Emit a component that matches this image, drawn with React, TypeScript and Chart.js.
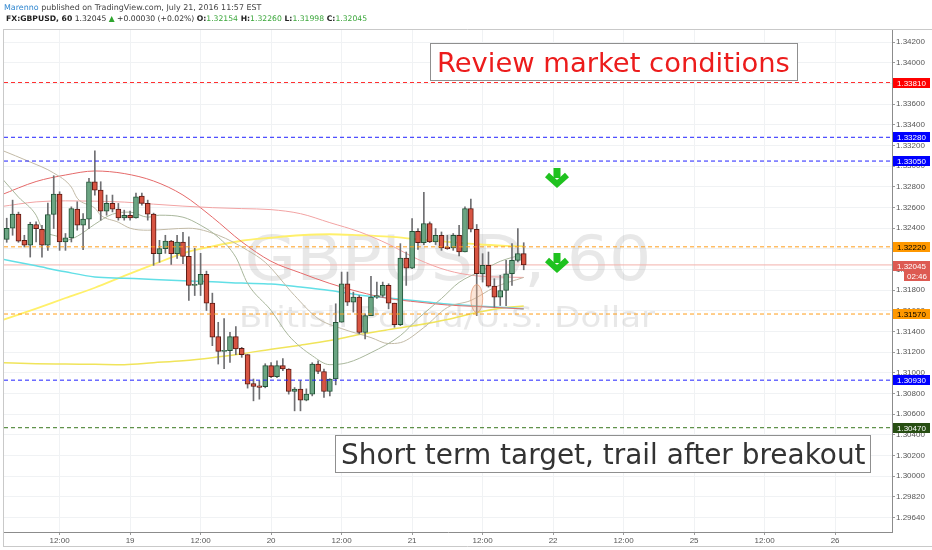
import React, { useEffect, useRef } from "react";
import { Chart, registerables } from "chart.js";

Chart.register(...registerables);

const W = 932;
const H = 550;

// ---- candles (hourly, first bar = bar index 3, i.e. July 18 03:00) ----
const FIRST_BAR = 3;
const opens = [
  1.32293, 1.32400, 1.32536, 1.32283, 1.32235, 1.32436, 1.32390, 1.32235, 1.32533, 1.32730,
  1.32267, 1.32306, 1.32585, 1.32429, 1.32488, 1.32850, 1.32769, 1.32565, 1.32640, 1.32585,
  1.32500, 1.32526, 1.32500, 1.32711, 1.32640, 1.32536, 1.32154, 1.32203, 1.32276, 1.32154,
  1.32267, 1.32128, 1.31847, 1.31856, 1.31953, 1.31675, 1.31351, 1.31209, 1.31216, 1.31351,
  1.31238, 1.31177, 1.30898, 1.30876, 1.30866, 1.31070, 1.30963, 1.31070, 1.31038, 1.30820,
  1.30843, 1.30737, 1.30795, 1.31086, 1.31014, 1.30820, 1.30941, 1.31490, 1.31863, 1.31684,
  1.31733, 1.31393, 1.31555, 1.31733, 1.31749, 1.31847, 1.31675, 1.31468, 1.32112, 1.32014,
  1.32371, 1.32261, 1.32446, 1.32267, 1.32332, 1.32218, 1.32209, 1.32332, 1.32170, 1.32591,
  1.32390, 1.31960, 1.32041, 1.31840, 1.31733, 1.31798, 1.31960, 1.32089, 1.32154,
];
const highs = [
  1.32497, 1.32672, 1.32556, 1.32332, 1.32458, 1.32461, 1.32429, 1.32643, 1.32908, 1.32753,
  1.32349, 1.32607, 1.32656, 1.32543, 1.32883, 1.33148, 1.32850, 1.32721, 1.32721, 1.32640,
  1.32575, 1.32565, 1.32740, 1.32740, 1.32672, 1.32546, 1.32283, 1.32332, 1.32283, 1.32332,
  1.32361, 1.32316, 1.32206, 1.32157, 1.31985, 1.31772, 1.31490, 1.31526, 1.31393, 1.31448,
  1.31248, 1.31177, 1.30941, 1.30924, 1.31089, 1.31099, 1.31118, 1.31138, 1.31041, 1.30859,
  1.30924, 1.30846, 1.31099, 1.31118, 1.31038, 1.30944, 1.31669, 1.31976, 1.31976, 1.31782,
  1.31749, 1.31572, 1.31934, 1.31879, 1.31879, 1.31863, 1.31675, 1.32251, 1.32170, 1.32494,
  1.32397, 1.32747, 1.32461, 1.32397, 1.32364, 1.32332, 1.32349, 1.32429, 1.32607, 1.32682,
  1.32436, 1.32154, 1.32170, 1.31912, 1.31944, 1.32089, 1.32251, 1.32397, 1.32260,
];
const lows = [
  1.32264, 1.32332, 1.32264, 1.32218, 1.32121, 1.32267, 1.32121, 1.32186, 1.32397, 1.32186,
  1.32186, 1.32267, 1.32381, 1.32193, 1.32397, 1.32721, 1.32478, 1.32526, 1.32558, 1.32478,
  1.32478, 1.32478, 1.32497, 1.32623, 1.32478, 1.32041, 1.32070, 1.32157, 1.32050, 1.32109,
  1.32057, 1.31701, 1.31749, 1.31749, 1.31604, 1.31264, 1.31086, 1.31041, 1.31102, 1.31177,
  1.31151, 1.30853, 1.30730, 1.30746, 1.30856, 1.30953, 1.30953, 1.31021, 1.30795, 1.30633,
  1.30633, 1.30730, 1.30778, 1.30992, 1.30762, 1.30778, 1.30885, 1.31490, 1.31652, 1.31588,
  1.31378, 1.31329, 1.31555, 1.31720, 1.31733, 1.31620, 1.31442, 1.31458, 1.31847, 1.32008,
  1.32196, 1.32242, 1.32261, 1.32242, 1.32186, 1.32196, 1.32186, 1.32131, 1.32170, 1.32364,
  1.31555, 1.31879, 1.31830, 1.31636, 1.31652, 1.31652, 1.31847, 1.32073, 1.31998,
];
const closes = [
  1.32400, 1.32536, 1.32276, 1.32235, 1.32439, 1.32397, 1.32235, 1.32533, 1.32730, 1.32267,
  1.32306, 1.32591, 1.32429, 1.32488, 1.32850, 1.32769, 1.32565, 1.32640, 1.32585, 1.32500,
  1.32526, 1.32500, 1.32704, 1.32640, 1.32536, 1.32154, 1.32203, 1.32276, 1.32154, 1.32267,
  1.32128, 1.31847, 1.31856, 1.31953, 1.31675, 1.31345, 1.31209, 1.31216, 1.31351, 1.31232,
  1.31177, 1.30892, 1.30869, 1.30859, 1.31070, 1.30963, 1.31070, 1.31038, 1.30820, 1.30843,
  1.30737, 1.30795, 1.31086, 1.31014, 1.30820, 1.30941, 1.31490, 1.31863, 1.31684, 1.31733,
  1.31393, 1.31555, 1.31733, 1.31749, 1.31847, 1.31675, 1.31468, 1.32112, 1.32014, 1.32371,
  1.32261, 1.32446, 1.32267, 1.32332, 1.32209, 1.32203, 1.32332, 1.32170, 1.32591, 1.32390,
  1.31960, 1.32041, 1.31840, 1.31733, 1.31798, 1.31960, 1.32089, 1.32154, 1.32045,
];

// ---- moving averages ----
const maIdx = [2, 8, 13, 18, 23, 28, 33, 38, 43, 48, 53, 58, 63, 68, 73, 78, 83, 88, 91];
const yellowA = [1.31507, 1.31623, 1.31725, 1.31824, 1.31939, 1.32050, 1.32157, 1.32225, 1.32279, 1.32308, 1.32332, 1.32342, 1.32332, 1.32318, 1.32293, 1.32269, 1.32245, 1.32230, 1.32225];
const yellowB = [1.31099, 1.31089, 1.31086, 1.31083, 1.31080, 1.31099, 1.31118, 1.31148, 1.31186, 1.31230, 1.31269, 1.31313, 1.31371, 1.31419, 1.31463, 1.31517, 1.31585, 1.31633, 1.31648];
const cyanMA = [1.32104, 1.32036, 1.31978, 1.31929, 1.31917, 1.31905, 1.31892, 1.31883, 1.31869, 1.31861, 1.31832, 1.31798, 1.31754, 1.31725, 1.31696, 1.31667, 1.31648, 1.31633, 1.31620];
const redMA = [1.32721, 1.32852, 1.32915, 1.32954, 1.32929, 1.32857, 1.32721, 1.32507, 1.32269, 1.32080, 1.31968, 1.31866, 1.31784, 1.31720, 1.31686, 1.31657, 1.31643, 1.31628, 1.31619];
const pinkMA = [1.32609, 1.32655, 1.32665, 1.32662, 1.32653, 1.32633, 1.32614, 1.32599, 1.32590, 1.32580, 1.32541, 1.32454, 1.32366, 1.32245, 1.32099, 1.31992, 1.31939, 1.31927, 1.31924];
const grayAIdx = [2, 5, 8, 9, 12, 13, 15, 18, 21, 24, 27, 29, 33, 36, 39, 42, 44, 48, 51, 55, 58, 61, 65, 70, 73, 77, 80, 84, 87, 91];
const grayA = [1.32895, 1.32701, 1.32526, 1.32400, 1.32313, 1.32283, 1.32322, 1.32439, 1.32536, 1.32556, 1.32507, 1.32526, 1.32507, 1.32429, 1.32313, 1.32119, 1.31866, 1.31604, 1.31361, 1.31167, 1.31080, 1.31099, 1.31196, 1.31361, 1.31526, 1.31720, 1.31876, 1.31992, 1.32080, 1.32148];
const grayBIdx = [2, 7, 11, 14, 15, 18, 19, 22, 24, 27, 34, 39, 44, 47, 52, 56, 60, 65, 68, 70, 74, 78, 82, 86, 91];
const grayB = [1.33158, 1.33041, 1.32934, 1.32798, 1.32691, 1.32594, 1.32526, 1.32458, 1.32400, 1.32381, 1.32400, 1.32332, 1.32186, 1.32070, 1.31749, 1.31526, 1.31429, 1.31342, 1.31284, 1.31293, 1.31439, 1.31633, 1.31701, 1.31827, 1.31924];

// ---- horizontal levels ----
const levelValues = [1.3381, 1.3328, 1.3305, 1.3222, 1.3157, 1.3093, 1.3047];
const levelLabels = ["1.33810", "1.33280", "1.33050", "1.32220", "1.31570", "1.30930", "1.30470"];
const levelLineColors = ["#ff3030", "#2020ff", "#2020ff", "#ff9d1a", "#ff9d1a", "#2020ff", "#38761d"];
const levelBoxColors = ["#ff0000", "#0000ff", "#0000ff", "#ff9800", "#ff9800", "#0000ff", "#274e13"];
const levelTextColors = ["#ffffff", "#ffffff", "#ffffff", "#000000", "#000000", "#ffffff", "#ffffff"];
const lastPrice = 1.32045;
const lastLabel = "1.32045";
const countdown = "02:46";

// ---- axes ----
const xMin = 2.536;
const xMax = 153.685;
const yMin = 1.29461;
const yMax = 1.34318;
const xTickValues = [12, 24, 36, 48, 60, 72, 84, 96, 108, 120, 132, 144];
const xTickLabels = ["12:00", "19", "12:00", "20", "12:00", "21", "12:00", "22", "12:00", "25", "12:00", "26"];
const yTickValues = [1.296, 1.298, 1.3, 1.302, 1.304, 1.306, 1.308, 1.31, 1.312, 1.314, 1.316, 1.318, 1.32, 1.322, 1.324, 1.326, 1.328, 1.33, 1.332, 1.334, 1.336, 1.338, 1.34, 1.342];
const yTickLabels = ["1.29640", "1.29820", "1.30000", "1.30200", "1.30400", "1.30600", "1.30800", "1.31000", "1.31200", "1.31400", "1.31600", "1.31800", "1.32000", "1.32200", "1.32400", "1.32600", "1.32800", "1.33000", "1.33200", "1.33400", "1.33600", "1.33800", "1.34000", "1.34200"];

// ---- texts ----
const headerAuthor = "Marenno";
const headerRest = " published on TradingView.com, July 21, 2016 11:57 EST";
const watermark1 = "GBPUSD, 60";
const watermark2 = "British Pound/U.S. Dollar";
const note1 = "Review market conditions";
const note2 = "Short term target, trail after breakout";

const DV = '"DejaVu Sans", Verdana, sans-serif';

function fitFont(ctx: CanvasRenderingContext2D, text: string, family: string, targetW: number, bold = false) {
  ctx.font = `${bold ? "bold " : ""}20px ${family}`;
  const w = ctx.measureText(text).width;
  return (20 * targetW) / w;
}

type Seg = { t: string; bold?: boolean; color: string };
function drawSegs(ctx: CanvasRenderingContext2D, segs: Seg[], x: number, y: number, targetW: number) {
  let total = 0;
  for (const s of segs) {
    ctx.font = `${s.bold ? "bold " : ""}10px ${DV}`;
    total += ctx.measureText(s.t).width;
  }
  const size = (10 * targetW) / total;
  let cx = x;
  ctx.textBaseline = "alphabetic";
  ctx.textAlign = "left";
  for (const s of segs) {
    ctx.font = `${s.bold ? "bold " : ""}${size}px ${DV}`;
    ctx.fillStyle = s.color;
    ctx.fillText(s.t, cx, y);
    cx += ctx.measureText(s.t).width;
  }
}

function drawStretched(ctx: CanvasRenderingContext2D, text: string, cx: number, baseline: number, capH: number, targetW: number) {
  const size = capH / 0.729;
  ctx.font = `${size}px ${DV}`;
  const w = ctx.measureText(text).width;
  ctx.save();
  ctx.translate(cx, baseline);
  ctx.scale(targetW / w, 1);
  ctx.textAlign = "center";
  ctx.textBaseline = "alphabetic";
  ctx.fillText(text, 0, 0);
  ctx.restore();
}

function drawNote(ctx: CanvasRenderingContext2D, text: string, color: string, bx: number, by: number, bw: number, bh: number, tx: number, tw: number) {
  ctx.fillStyle = "#ffffff";
  ctx.fillRect(bx, by, bw, bh);
  ctx.strokeStyle = "#8f8f8f";
  ctx.lineWidth = 1;
  ctx.strokeRect(bx + 0.5, by + 0.5, bw - 1, bh - 1);
  const size = fitFont(ctx, text, DV, tw);
  ctx.font = `${size}px ${DV}`;
  ctx.fillStyle = color;
  ctx.textAlign = "left";
  ctx.textBaseline = "alphabetic";
  ctx.fillText(text, tx, by + bh / 2 + (size * 0.729) / 2);
}

function drawArrow(ctx: CanvasRenderingContext2D, cx: number, top: number) {
  ctx.fillStyle = "#1fc21f";
  ctx.strokeStyle = "#1fc21f";
  ctx.fillRect(cx - 3.5, top, 7, 10);
  ctx.lineWidth = 6;
  ctx.lineJoin = "miter";
  ctx.lineCap = "butt";
  ctx.beginPath();
  ctx.moveTo(cx - 10, top + 7);
  ctx.lineTo(cx, top + 16);
  ctx.lineTo(cx + 10, top + 7);
  ctx.stroke();
}

export default function App() {
  const ref = useRef<HTMLCanvasElement>(null);

  useEffect(() => {
    const canvas = ref.current;
    if (!canvas) return;

    const bodies = opens.map((o, i) => ({ x: FIRST_BAR + i, y: [o, closes[i]] }));
    const wicks = lows.map((l, i) => ({ x: FIRST_BAR + i, y: [l, highs[i]] }));
    const up = opens.map((o, i) => closes[i] >= o);
    const bodyFill = up.map((u) => (u ? "#6ba583" : "#d75442"));
    const bodyBorder = up.map((u) => (u ? "#225437" : "#5b1a13"));

    const ma = (idx: number[], vals: number[], color: string, width: number) => ({
      type: "line" as const,
      data: idx.map((x, i) => ({ x, y: vals[i] })),
      borderColor: color,
      borderWidth: width,
      pointRadius: 0,
      cubicInterpolationMode: "monotone" as const,
      fill: false,
      order: 10,
    });

    const levelSets = levelValues.map((v, i) => ({
      type: "line" as const,
      data: [
        { x: xMin, y: v },
        { x: xMax, y: v },
      ],
      borderColor: levelLineColors[i],
      borderWidth: 1,
      borderDash: [4, 3],
      pointRadius: 0,
      fill: false,
      order: 1,
    }));

    const overlay = {
      id: "overlay",
      beforeDatasetsDraw(chart: any) {
        const ctx: CanvasRenderingContext2D = chart.ctx;
        const a = chart.chartArea;
        ctx.save();
        ctx.beginPath();
        ctx.rect(a.left, a.top, a.right - a.left, a.bottom - a.top);
        ctx.clip();
        ctx.fillStyle = "rgba(110,110,110,0.16)";
        const cx = (a.left + a.right) / 2;
        drawStretched(ctx, watermark1, cx, 280, 45, 407);
        drawStretched(ctx, watermark2, cx - 1, 327, 21, 416);
        ctx.restore();
      },
      afterDatasetsDraw(chart: any) {
        const ctx: CanvasRenderingContext2D = chart.ctx;
        const xs = chart.scales.x;
        const ys = chart.scales.y;
        ctx.save();
        // ellipse highlight on the long lower wick
        const ex = xs.getPixelForValue(83);
        const ey = ys.getPixelForValue(1.3172);
        ctx.beginPath();
        ctx.ellipse(ex, ey, 6, 14, 0, 0, Math.PI * 2);
        ctx.fillStyle = "rgba(245,180,140,0.35)";
        ctx.fill();
        ctx.strokeStyle = "rgba(225,150,110,0.7)";
        ctx.lineWidth = 1;
        ctx.stroke();
        // notes
        drawNote(ctx, note1, "#ec1c1c", 430, 43, 368, 38, 437, 353);
        drawNote(ctx, note2, "#333333", 335, 435, 536, 38, 341, 525);
        // arrows
        drawArrow(ctx, 557, 168);
        drawArrow(ctx, 557, 253);
        ctx.restore();
      },
      afterDraw(chart: any) {
        const ctx: CanvasRenderingContext2D = chart.ctx;
        const ys = chart.scales.y;
        const a = chart.chartArea;
        ctx.save();
        // price boxes on the right axis
        ctx.font = `8px "Liberation Sans", Arial, sans-serif`;
        ctx.textBaseline = "middle";
        ctx.textAlign = "left";
        levelValues.forEach((v, i) => {
          const y = Math.round(ys.getPixelForValue(v));
          ctx.fillStyle = levelBoxColors[i];
          ctx.fillRect(a.right + 1, y - 5, 37, 10);
          ctx.fillStyle = levelTextColors[i];
          ctx.fillText(levelLabels[i], a.right + 5, y + 0.5);
        });
        const ly = Math.round(ys.getPixelForValue(lastPrice));
        ctx.fillStyle = "#dd5a52";
        ctx.fillRect(a.right + 1, ly - 4, 37, 10);
        ctx.fillRect(a.right + 12, ly + 6, 26, 10);
        ctx.fillStyle = "#ffffff";
        ctx.fillText(lastLabel, a.right + 5, ly + 1.5);
        ctx.fillText(countdown, a.right + 15, ly + 11.5);

        // frame
        ctx.strokeStyle = "#c9c9c9";
        ctx.lineWidth = 1;
        ctx.beginPath();
        ctx.moveTo(3, 29.5);
        ctx.lineTo(W, 29.5);
        ctx.moveTo(3.5, 29);
        ctx.lineTo(3.5, 547);
        ctx.moveTo(3, 546.5);
        ctx.lineTo(W, 546.5);
        ctx.stroke();

        // header
        drawSegs(ctx, [
          { t: headerAuthor, color: "#2f86cf" },
          { t: headerRest, color: "#444444" },
        ], 4, 9.5, 258);
        drawSegs(ctx, [
          { t: "FX:GBPUSD, 60", bold: true, color: "#222222" },
          { t: " 1.32045 ", color: "#333333" },
          { t: "\u25B2", color: "#2ea52e" },
          { t: " +0.00030 (+0.02%) ", color: "#333333" },
          { t: "O:", bold: true, color: "#222222" },
          { t: "1.32154", color: "#3aa63a" },
          { t: " H:", bold: true, color: "#222222" },
          { t: "1.32260", color: "#3aa63a" },
          { t: " L:", bold: true, color: "#222222" },
          { t: "1.31998", color: "#3aa63a" },
          { t: " C:", bold: true, color: "#222222" },
          { t: "1.32045", color: "#3aa63a" },
        ], 6, 21, 362);
        ctx.restore();
      },
    };

    const chart = new Chart(canvas, {
      type: "bar",
      data: {
        datasets: [
          ...levelSets,
          {
            type: "line",
            data: [
              { x: xMin, y: lastPrice },
              { x: xMax, y: lastPrice },
            ],
            borderColor: "#f3b1ab",
            borderWidth: 1,
            pointRadius: 0,
            fill: false,
            order: 11,
          } as any,
          {
            type: "bar",
            data: bodies as any,
            backgroundColor: bodyFill,
            borderColor: bodyBorder,
            borderWidth: 1,
            borderSkipped: false,
            barThickness: 5,
            minBarLength: 1,
            grouped: false,
            order: 2,
          } as any,
          {
            type: "bar",
            data: wicks as any,
            backgroundColor: "#6f6f72",
            borderWidth: 0,
            barThickness: 1,
            grouped: false,
            order: 3,
          } as any,
          ma(grayAIdx, grayA, "#a9b79c", 1),
          ma(grayBIdx, grayB, "#c2baa6", 1),
          ma(maIdx, pinkMA, "#f2a3a3", 1),
          ma(maIdx, redMA, "#e56a6a", 1),
          ma(maIdx, cyanMA, "#62dfe6", 1.5),
          ma(maIdx, yellowB, "#f0e45a", 1.5),
          ma(maIdx, yellowA, "#fff06a", 1.8),
        ] as any,
      },
      options: {
        responsive: false,
        animation: false,
        events: [],
        layout: { padding: { left: 4, top: 30, right: 0, bottom: 0 } },
        plugins: { legend: { display: false }, tooltip: { enabled: false } },
        scales: {
          x: {
            type: "linear",
            min: xMin,
            max: xMax,
            offset: false,
            afterBuildTicks: (s: any) => {
              s.ticks = xTickValues.map((v) => ({ value: v }));
            },
            afterFit: (s: any) => {
              s.height = 18;
            },
            ticks: {
              callback: (_v: any, i: number) => xTickLabels[i],
              font: { size: 8, family: '"Liberation Sans", Arial, sans-serif' },
              color: "#555555",
              maxRotation: 0,
              autoSkip: false,
              padding: 1,
            },
            grid: { color: "#f0f2f4", offset: false, tickLength: 3, tickColor: "#9a9a9a" },
            border: { color: "#8c8c8c" },
          },
          y: {
            type: "linear",
            position: "right",
            min: yMin,
            max: yMax,
            afterBuildTicks: (s: any) => {
              s.ticks = yTickValues.map((v) => ({ value: v }));
            },
            afterFit: (s: any) => {
              s.width = 40;
            },
            ticks: {
              callback: (_v: any, i: number) => yTickLabels[i],
              font: { size: 8, family: '"Liberation Sans", Arial, sans-serif' },
              color: "#555555",
              autoSkip: false,
              padding: 1,
            },
            grid: { color: "#f0f2f4", tickLength: 3, tickColor: "#9a9a9a" },
            border: { color: "#8c8c8c" },
          },
        },
      } as any,
      plugins: [overlay],
    });

    return () => chart.destroy();
  }, []);

  return (
    <div style={{ position: "absolute", left: 0, top: 0, width: W, height: H, background: "#ffffff" }}>
      <canvas ref={ref} width={W} height={H} style={{ width: W, height: H, display: "block" }} />
    </div>
  );
}
